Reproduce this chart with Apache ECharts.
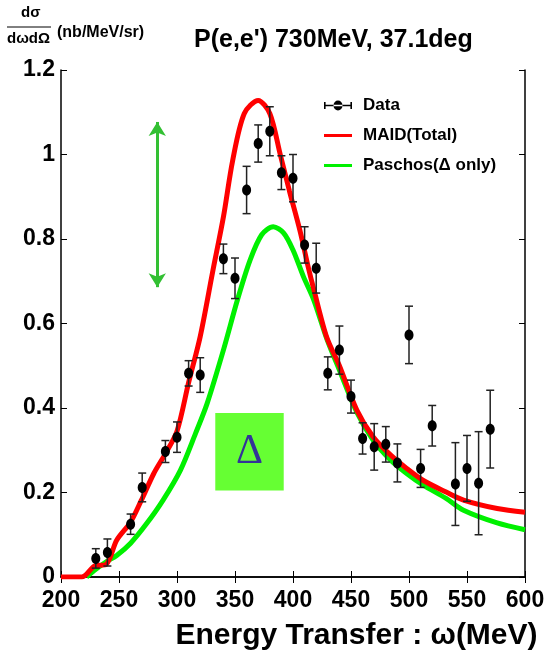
<!DOCTYPE html>
<html>
<head>
<meta charset="utf-8">
<script src="https://cdn.jsdelivr.net/npm/echarts@6/dist/echarts.min.js"></script>
<style>
html, body { margin: 0; padding: 0; background: #fff; }
#chart { width: 546px; height: 650px; }
</style>
</head>
<body>
<div id="chart"></div>
<script>
// measured points (energy transfer in MeV, cross section in nb/MeV/sr)
var energy = [230, 240, 260, 270, 290, 300, 310, 320, 340, 350, 360, 370, 380, 390, 400, 410,
  420, 430, 440, 450, 460, 470, 480, 490, 500, 510, 520, 540, 550, 560, 570];
var sigma = [0.044, 0.058, 0.125, 0.212, 0.297, 0.331, 0.482, 0.478, 0.753, 0.707, 0.916, 1.026,
  1.055, 0.957, 0.944, 0.786, 0.731, 0.482, 0.537, 0.427, 0.328, 0.308, 0.314, 0.270, 0.573,
  0.257, 0.358, 0.220, 0.257, 0.222, 0.350];
var sigmaErr = [0.023, 0.032, 0.024, 0.034, 0.026, 0.036, 0.030, 0.041, 0.035, 0.048, 0.056, 0.044,
  0.058, 0.040, 0.056, 0.043, 0.059, 0.039, 0.057, 0.039, 0.037, 0.055, 0.042, 0.045, 0.068,
  0.045, 0.048, 0.098, 0.078, 0.122, 0.092];

// MAID (total)
var maidE = [200, 218, 229, 239, 248, 260, 269, 280, 290, 300, 310, 320, 331, 340, 348, 358, 370,
  380, 389, 397, 406, 413, 418, 429, 440, 455, 469, 484, 498, 512, 532, 547, 576, 600];
var maidV = [0, 0, 0.026, 0.030, 0.087, 0.130, 0.180, 0.245, 0.292, 0.345, 0.460, 0.569, 0.726,
  0.852, 0.986, 1.097, 1.128, 1.097, 1.000, 0.913, 0.820, 0.735, 0.680, 0.568, 0.500, 0.395,
  0.332, 0.289, 0.257, 0.229, 0.201, 0.182, 0.162, 0.153];

// Paschos (delta only)
var paschosE = [222, 230, 239, 248, 260, 274, 288, 303, 316, 326, 340, 352, 363, 373, 383, 392,
  400, 409, 418, 429, 440, 455, 469, 484, 498, 512, 532, 547, 576, 600];
var paschosV = [0, 0.018, 0.036, 0.051, 0.080, 0.127, 0.182, 0.253, 0.340, 0.411, 0.537, 0.655,
  0.750, 0.810, 0.829, 0.814, 0.774, 0.711, 0.655, 0.565, 0.490, 0.390, 0.324, 0.277, 0.245,
  0.218, 0.186, 0.158, 0.128, 0.112];

// annotations: arrow between the two peaks, delta box
var arrowE = 283;
var arrowRange = [1.077, 0.686];
var boxE = [333, 392];
var boxV = [0.388, 0.205];

var FONT = "'Liberation Sans', Arial, sans-serif";
// a plain bar icon for the curves (tiny corner dots keep the 28x10 box)
var LINE_ICON = 'path://M0,0h0.01v0.01h-0.01z M0,3.5h28v3h-28z M27.99,9.99h0.01v0.01h-0.01z';
var DATA_ICON = 'path://M0,4.2h28v1.6h-28z M0,1.5h1.6v7h-1.6z M26.4,1.5h1.6v7h-1.6z M9.5,5a4.5,5 0 1,0 9,0a4.5,5 0 1,0 -9,0z';

var chart = echarts.init(document.getElementById('chart'));

function pairs(xs, ys) {
  var out = [];
  for (var i = 0; i < xs.length; i++) out.push([xs[i], ys[i]]);
  return out;
}

var dataPts = [];
for (var i = 0; i < energy.length; i++) {
  dataPts.push([energy[i], sigma[i], sigmaErr[i]]);
}

function renderErr(params, api) {
  var x = api.value(0), y = api.value(1), e = api.value(2);
  var top = api.coord([x, y + e]);
  var bot = api.coord([x, y - e]);
  var mid = api.coord([x, y]);
  var st = { stroke: '#222', lineWidth: 1.5 };
  return {
    type: 'group',
    children: [
      { type: 'line', shape: { x1: mid[0], y1: top[1], x2: mid[0], y2: bot[1] }, style: st },
      { type: 'line', shape: { x1: mid[0] - 4, y1: top[1], x2: mid[0] + 4, y2: top[1] }, style: st },
      { type: 'line', shape: { x1: mid[0] - 4, y1: bot[1], x2: mid[0] + 4, y2: bot[1] }, style: st },
      { type: 'ellipse', shape: { cx: mid[0], cy: mid[1], rx: 4.5, ry: 5.5 }, style: { fill: '#000' } }
    ]
  };
}

var axisLine = { show: true, lineStyle: { color: '#000', width: 1.5 } };
var tick = { show: true, inside: true, length: 6, lineStyle: { color: '#000', width: 1 } };
var tickLabel = { fontSize: 23, fontWeight: 'bold', fontFamily: FONT, color: '#000' };

var option = {
  animation: false,
  backgroundColor: '#fff',
  title: {
    text: "P(e,e') 730MeV, 37.1deg",
    left: 189,
    top: 23,
    textStyle: { fontSize: 25, fontWeight: 'bold', fontFamily: FONT, color: '#000' }
  },
  graphic: [
    { type: 'text', left: 21, top: 5, style: { text: 'dσ', font: 'bold 15px ' + FONT, fill: '#000' } },
    { type: 'line', shape: { x1: 7, y1: 27, x2: 51, y2: 27 }, style: { stroke: '#000', lineWidth: 1 } },
    { type: 'text', left: 7, top: 31, style: { text: 'dωdΩ', font: 'bold 15px ' + FONT, fill: '#000' } },
    { type: 'text', left: 57, top: 25, style: { text: '(nb/MeV/sr)', font: 'bold 16px ' + FONT, fill: '#000' } }
  ],
  legend: {
    orient: 'vertical',
    left: 319,
    top: 92,
    itemWidth: 28,
    itemHeight: 10,
    itemGap: 13,
    textStyle: { fontSize: 17, fontWeight: 'bold', fontFamily: FONT, color: '#000', padding: [0, 0, 0, 6] },
    data: [
      { name: 'Data', icon: DATA_ICON },
      { name: 'MAID(Total)', icon: LINE_ICON },
      { name: 'Paschos(Δ only)', icon: LINE_ICON }
    ]
  },
  grid: { left: 61, right: 21, top: 70, bottom: 73, outerBoundsMode: 'none' },
  xAxis: [
    {
      type: 'value', min: 200, max: 600, interval: 50,
      axisLine: axisLine, axisTick: tick, splitLine: { show: false },
      axisLabel: Object.assign({ margin: 12 }, tickLabel),
      name: 'Energy Transfer : ω(MeV)',
      nameLocation: 'middle',
      nameGap: 44,
      nameTextStyle: { fontSize: 30, fontWeight: 'bold', fontFamily: FONT, color: '#000', padding: [0, 0, 0, 127] }
    },
    {
      type: 'value', position: 'top', min: 200, max: 600, interval: 50,
      axisLine: axisLine, axisTick: tick, axisLabel: { show: false }, splitLine: { show: false }
    }
  ],
  yAxis: [
    {
      type: 'value', min: 0, max: 1.2, interval: 0.2,
      axisLine: axisLine, axisTick: tick, splitLine: { show: false },
      axisLabel: Object.assign({ margin: 6 }, tickLabel)
    },
    {
      type: 'value', position: 'right', min: 0, max: 1.2, interval: 0.2,
      axisLine: axisLine, axisTick: tick, axisLabel: { show: false }, splitLine: { show: false }
    }
  ],
  series: [
    {
      name: 'Paschos(Δ only)',
      type: 'line',
      data: pairs(paschosE, paschosV),
      smooth: 0.3,
      symbol: 'none',
      color: '#00f000',
      lineStyle: { color: '#00f000', width: 5 },
      z: 2,
      markLine: {
        silent: true,
        symbol: ['arrow', 'arrow'],
        symbolSize: [13, 14],
        label: { show: false },
        lineStyle: { color: '#33c033', width: 3, type: 'solid' },
        data: [[{ coord: [arrowE, arrowRange[0]] }, { coord: [arrowE, arrowRange[1]] }]]
      }
    },
    {
      name: 'MAID(Total)',
      type: 'line',
      data: pairs(maidE, maidV),
      smooth: 0.3,
      symbol: 'none',
      color: '#ff0000',
      lineStyle: { color: '#ff0000', width: 5 },
      z: 3,
      markArea: {
        silent: true,
        itemStyle: { color: '#66ff33', opacity: 1 },
        label: {
          show: true, position: 'inside', formatter: 'Δ',
          fontSize: 42, fontFamily: "'Liberation Serif', 'DejaVu Serif', serif", color: '#333399'
        },
        data: [[{ coord: [boxE[0], boxV[0]] }, { coord: [boxE[1], boxV[1]] }]]
      }
    },
    {
      name: 'Data',
      type: 'custom',
      renderItem: renderErr,
      data: dataPts,
      color: '#000',
      z: 5
    }
  ]
};

chart.setOption(option);
</script>
</body>
</html>
